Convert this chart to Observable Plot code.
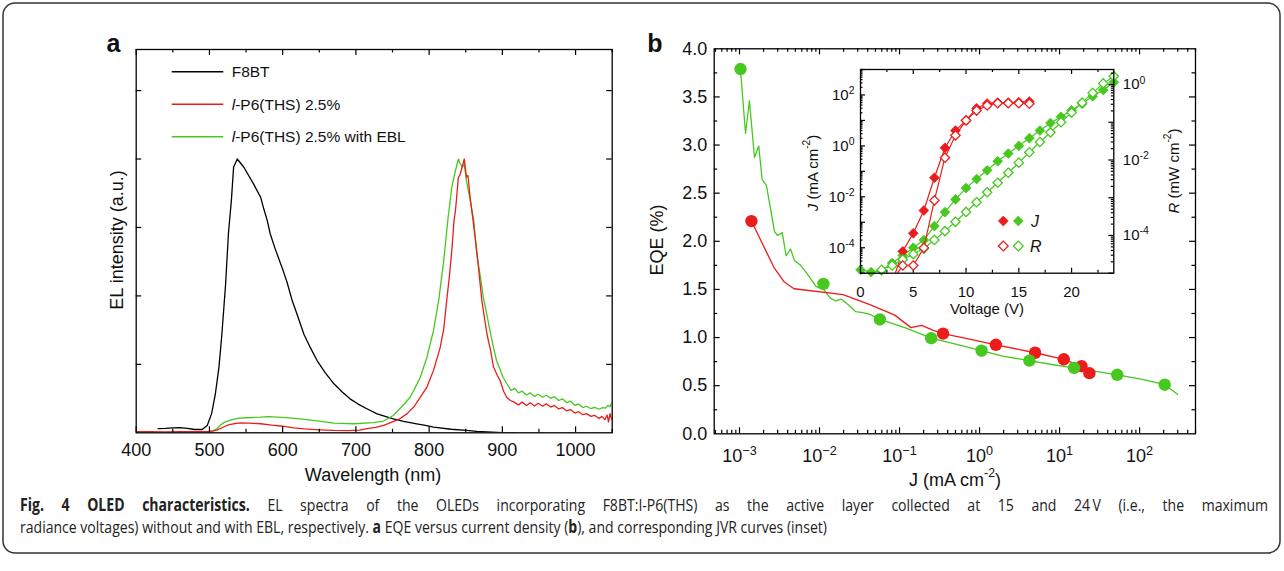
<!DOCTYPE html>
<html><head><meta charset="utf-8">
<script src="https://cdn.jsdelivr.net/npm/d3@7"></script>
<script src="https://cdn.jsdelivr.net/npm/@observablehq/plot@0.6"></script>
<style>
body{margin:0;background:#fff;}
#root{position:relative;width:1284px;height:571px;overflow:hidden;font-family:"Liberation Sans",Arial,sans-serif;color:#111;}
.lbl{position:absolute;white-space:nowrap;transform:translate(-50%,-50%);line-height:1;}
.rot{transform:translate(-50%,-50%) rotate(-90deg);}
.lbl sup{font-size:0.68em;position:relative;top:-0.15em;vertical-align:super;line-height:0;}
</style></head><body><div id="root"></div>
<script>
// ---------- Panel a: EL spectra ----------
const f8btWl = [430,440,450,460,470,480,490,497,503,508,513,517,522,526,530,533,538,547,560,570,574,579,583,590,599,606,613,620,629,638,647,658,670,681,692,703,715,729,740,751,765,783,795,806,830,851,865,879,900,920];
const f8btEl = [0.015,0.016,0.018,0.019,0.016,0.012,0.012,0.027,0.07,0.14,0.24,0.36,0.54,0.73,0.85,0.97,1.0,0.97,0.91,0.86,0.82,0.775,0.727,0.67,0.605,0.55,0.483,0.43,0.36,0.31,0.264,0.22,0.179,0.15,0.124,0.105,0.088,0.069,0.06,0.051,0.042,0.033,0.027,0.021,0.013,0.0085,0.005,0.003,0.001,0.0];
const p6Wl = [400,420,440,460,480,500,510,520,527,533,542,555,570,585,600,615,630,650,670,690,705,715,727,738,750,760,770,779,788,797,806,815,820,824,828,831,834,836,840,842,845,848,851,853,856,860,865,872,879,884,888,893,897,902,906,911,916,922,927,933,938,944,949,955,960,966,971,977,982,988,993,999,1004,1010,1015,1021,1026,1032,1036,1040,1043,1045,1047,1049];
const p6El = [0.004,0.004,0.003,0.004,0.004,0.005,0.01,0.022,0.03,0.033,0.036,0.035,0.033,0.028,0.024,0.018,0.014,0.011,0.0085,0.008,0.01,0.015,0.02,0.027,0.04,0.051,0.07,0.094,0.13,0.167,0.228,0.31,0.38,0.483,0.58,0.666,0.775,0.812,0.934,0.94,0.97,1.0,0.934,0.94,0.86,0.775,0.666,0.483,0.36,0.3,0.24,0.21,0.19,0.15,0.13,0.118,0.112,0.102,0.112,0.1,0.11,0.098,0.108,0.097,0.106,0.094,0.1,0.087,0.092,0.08,0.085,0.072,0.077,0.066,0.07,0.06,0.064,0.052,0.06,0.048,0.065,0.04,0.07,0.05];
const eblWl = [400,440,480,500,505,510,515,520,524,530,538,550,570,580,600,624,650,670,697,724,738,751,760,767,774,781,788,797,806,813,820,826,831,836,840,842,845,848,851,856,861,865,870,874,879,883,888,892,897,901,906,912,917,922,927,933,938,944,949,955,960,966,971,977,982,988,993,999,1004,1010,1015,1021,1026,1032,1037,1041,1044,1047,1049];
const eblEl = [0.001,0.001,0.001,0.002,0.006,0.015,0.028,0.038,0.042,0.047,0.053,0.055,0.057,0.059,0.056,0.051,0.043,0.035,0.033,0.037,0.043,0.063,0.088,0.108,0.13,0.165,0.203,0.276,0.374,0.483,0.63,0.788,0.897,0.958,1.0,0.985,0.97,0.98,0.92,0.85,0.775,0.654,0.57,0.495,0.43,0.374,0.31,0.264,0.23,0.203,0.18,0.155,0.162,0.146,0.152,0.138,0.146,0.133,0.141,0.13,0.137,0.126,0.132,0.118,0.124,0.11,0.116,0.1,0.105,0.092,0.097,0.088,0.093,0.086,0.092,0.09,0.1,0.095,0.108];
const wlTicks = [400,500,600,700,800,900,1000];

// ---------- Panel b: EQE vs J ----------
const eqeGreenJ = [1.03e-3,1.19e-3,1.33e-3,1.54e-3,1.74e-3,1.92e-3,2.17e-3,2.43e-3,2.74e-3,3.0e-3,3.42e-3,3.83e-3,4.34e-3,4.87e-3,5.79e-3,6.7e-3,9.1e-3,0.0112,0.0137,0.016,0.0187,0.0229,0.0282,0.0347,0.0427,0.0568,0.119,0.249,0.616,1.06,2.0,4.2,8.0,15.2,52.6,105,206,298];
const eqeGreen = [3.78,3.12,3.46,2.87,2.99,2.64,2.58,2.35,2.1,2.06,2.09,1.85,1.92,1.80,1.75,1.685,1.53,1.50,1.41,1.38,1.40,1.34,1.27,1.26,1.24,1.188,1.10,0.993,0.914,0.863,0.805,0.76,0.72,0.685,0.613,0.568,0.51,0.41];
const eqeRedJ = [1.41e-3,2.69e-3,3.6e-3,4.81e-3,0.0197,0.0426,0.0873,0.139,0.189,0.265,0.35,0.75,1.6,4.95,11.3,18.8,23.6];
const eqeRed = [2.21,1.73,1.58,1.507,1.445,1.342,1.233,1.103,1.127,1.075,1.041,0.983,0.925,0.842,0.774,0.702,0.63];
const dotGreenJ = [1.03e-3,0.0112,0.0568,0.249,1.06,4.2,15.2,52.6,206];
const dotGreenEqe = [3.79,1.558,1.188,0.993,0.863,0.76,0.685,0.613,0.51];
const dotRedJ = [1.41e-3,0.35,1.6,4.95,11.3,18.8,23.6];
const dotRedEqe = [2.21,1.041,0.925,0.842,0.774,0.702,0.63];
const eqeTicks = [0,0.5,1,1.5,2,2.5,3,3.5,4];
const jDecades = [1e-3,1e-2,1e-1,1,10,100];

// ---------- Inset: J-V-R ----------
const leadRedJV = [3.3], leadRedJ = [1e-5];
const vRedJ = [4,5,6,7,8,9,10,11,12,13,14,15,16];
const jRed = [7.2e-5,3.7e-4,2.9e-3,0.056,0.84,4.0,10,30,46,50,50,52,55];
const leadRedRV = [3.5], leadRedR = [1e-5];
const vRedR = [4,5,6,7,8,9,10,11,12,13,14,15,16];
const rRed = [1.6e-5,1.6e-5,4.7e-5,8.5e-4,0.0115,0.045,0.112,0.204,0.278,0.32,0.32,0.32,0.31];
const vGreenJ = [0,1,2,3,4,5,6,7,8,9,10,11,12,13,14,15,16,17,18,19,20,21,22,23,24];
const jGreen = [1.35e-5,1.1e-5,1.26e-5,2.5e-5,5e-5,1e-4,2e-4,7.1e-4,2.5e-3,7.9e-3,0.022,0.05,0.11,0.25,0.5,1.0,2.0,4.0,7.9,14,25,45,89,158,316];
const vGreenR = [2,3,4,5,6,7,8,9,10,11,12,13,14,15,16,17,18,19,20,21,22,23,24];
const rGreen = [1.23e-5,1.6e-5,2.3e-5,3.2e-5,4.5e-5,7.6e-5,1.3e-4,2.3e-4,4.2e-4,7.6e-4,1.4e-3,2.5e-3,4.6e-3,8.5e-3,0.016,0.03,0.054,0.1,0.18,0.33,0.6,1.07,1.66];
const vTicks = [0,5,10,15,20];
const jInsetTicks = [1e-4,1e-2,1,1e2];
const rInsetTicks = [1e-4,1e-2,1];

const RED = "#ec1c1c", GREEN = "#46c81e", BLACK = "#000";
const FONT = '"Liberation Sans", Arial, Helvetica, sans-serif';
const root = document.getElementById("root");

const tickStyle = {stroke: "#000", strokeWidth: 1.2};
function xTicks(vals, len, innerH) {
  return [Plot.tickX(vals, {x: d => d, insetTop: innerH - len, ...tickStyle}),
          Plot.tickX(vals, {x: d => d, insetBottom: innerH - len, ...tickStyle})];
}
function yTicks(vals, len, innerW, side) {
  const m = [];
  if (side !== "right") m.push(Plot.tickY(vals, {y: d => d, insetRight: innerW - len, ...tickStyle}));
  if (side !== "left") m.push(Plot.tickY(vals, {y: d => d, insetLeft: innerW - len, ...tickStyle}));
  return m;
}
function logTicks(lo, hi, minor) {
  const out = [];
  for (let e = Math.floor(Math.log10(lo)); e <= Math.ceil(Math.log10(hi)); e++)
    for (const k of (minor ? [2,3,4,5,6,7,8,9] : [1])) {
      const v = k * Math.pow(10, e);
      if (v >= lo * 0.999 && v <= hi * 1.001) out.push(v);
    }
  return out;
}
function supify(svg) {
  const ns = "http://www.w3.org/2000/svg";
  svg.querySelectorAll("text").forEach(t => {
    const m = t.textContent.match(/^(\d+)\^(.+)$/);
    if (!m) return;
    t.textContent = m[1];
    const sp = document.createElementNS(ns, "tspan");
    sp.setAttribute("dy", "-0.55em");
    sp.setAttribute("font-size", "0.7em");
    sp.textContent = m[2];
    t.appendChild(sp);
  });
}
function place(el, left, top) {
  el.style.position = "absolute"; el.style.left = left + "px"; el.style.top = top + "px";
  root.appendChild(el); return el;
}
const baseStyle = {fontFamily: FONT, fontSize: "18px", background: "transparent", overflow: "visible", color: "#111"};
const expFmt = (minus) => d => "10^" + String(Math.round(Math.log10(d))).replace("-", minus);

// ---------- Panel a ----------
{
  const W = 650, H = 500, mL = 135.7, mR = 38.3, mT = 49, mB = 67.7;
  const iW = W - mL - mR, iH = H - mT - mB;
  const rows = [];
  f8btWl.forEach((w, i) => rows.push({s: "F8BT", x: w, y: f8btEl[i]}));
  eblWl.forEach((w, i) => rows.push({s: "EBL", x: w, y: eblEl[i]}));
  p6Wl.forEach((w, i) => rows.push({s: "P6", x: w, y: p6El[i]}));
  const svg = Plot.plot({
    width: W, height: H, marginLeft: mL, marginRight: mR, marginTop: mT, marginBottom: mB,
    style: baseStyle,
    x: {domain: [400, 1050]},
    y: {domain: [0, 1.4], axis: null},
    color: {domain: ["F8BT", "P6", "EBL"], range: [BLACK, RED, GREEN]},
    marks: [
      Plot.lineY(rows, {x: "x", y: "y", z: "s", stroke: "s", strokeWidth: 1.3, clip: true}),
      ...xTicks(wlTicks, 6, iH),
      ...xTicks([450,550,650,750,850,950,1050], 3.5, iH),
      ...yTicks([0.25,0.5,0.75,1,1.25], 5.5, iW, "both"),
      Plot.axisX({ticks: wlTicks, tickSize: 0, tickPadding: 10, label: null, tickFormat: d => String(d), fontSize: 18}),
      Plot.frame({stroke: "#000", strokeWidth: 1.3})
    ]
  });
  place(svg, 0, 0);
}

// ---------- Panel b ----------
{
  const W = 600, H = 500, mL = 73.7, mR = 45, mT = 48.3, mB = 66.7;
  const iW = W - mL - mR, iH = H - mT - mB;
  const gLine = eqeGreenJ.map((j, i) => ({x: j, y: eqeGreen[i]}));
  const rLine = eqeRedJ.map((j, i) => ({x: j, y: eqeRed[i]}));
  const gDots = dotGreenJ.map((j, i) => ({x: j, y: dotGreenEqe[i]}));
  const rDots = dotRedJ.map((j, i) => ({x: j, y: dotRedEqe[i]}));
  const svg = Plot.plot({
    width: W, height: H, marginLeft: mL, marginRight: mR, marginTop: mT, marginBottom: mB,
    style: baseStyle,
    x: {type: "log", domain: [4.83e-4, 500]},
    y: {domain: [0, 4]},
    marks: [
      Plot.line(gLine, {x: "x", y: "y", stroke: GREEN, strokeWidth: 1.3}),
      Plot.line(rLine, {x: "x", y: "y", stroke: RED, strokeWidth: 1.3}),
      Plot.dot(rDots, {x: "x", y: "y", r: 6.2, fill: RED, stroke: "none"}),
      Plot.dot(gDots, {x: "x", y: "y", r: 6.2, fill: GREEN, stroke: "none"}),
      ...xTicks(jDecades, 6, iH),
      ...xTicks(logTicks(4.83e-4, 500, true), 3.5, iH),
      ...yTicks([0.5,1,1.5,2,2.5,3,3.5], 6, iW, "both"),
      ...yTicks([0.25,0.75,1.25,1.75,2.25,2.75,3.25,3.75], 3.5, iW, "both"),
      Plot.axisX({ticks: jDecades, tickSize: 0, tickPadding: 15, label: null, tickFormat: expFmt("\u2212"), fontSize: 18}),
      Plot.axisY({ticks: eqeTicks, tickSize: 0, tickPadding: 7, label: null, tickFormat: d3.format(".1f"), fontSize: 18}),
      Plot.frame({stroke: "#000", strokeWidth: 1.3})
    ]
  });
  supify(svg);
  place(svg, 640, 0);
}

// ---------- Inset (J axis, left) ----------
const IW = 420, IH = 320, imL = 80, imR = 86.7, imT = 49, imB = 67.3;
const iiW = IW - imL - imR, iiH = IH - imT - imB;
{
  const redJLine = [...leadRedJV.map((v, i) => ({x: v, y: leadRedJ[i]})), ...vRedJ.map((v, i) => ({x: v, y: jRed[i]}))];
  const redJPts = vRedJ.map((v, i) => ({x: v, y: jRed[i]}));
  const greenJPts = vGreenJ.map((v, i) => ({x: v, y: jGreen[i]}));
  const svg = Plot.plot({
    width: IW, height: IH, marginLeft: imL, marginRight: imR, marginTop: imT, marginBottom: imB,
    style: {...baseStyle, fontSize: "14px"},
    x: {domain: [0, 24]},
    y: {type: "log", domain: [1e-5, 1e3]},
    marks: [
      Plot.frame({fill: "white", stroke: "none"}),
      Plot.line(greenJPts, {x: "x", y: "y", stroke: GREEN, strokeWidth: 1.2, clip: true}),
      Plot.line(redJLine, {x: "x", y: "y", stroke: RED, strokeWidth: 1.2, clip: true}),
      Plot.dot(greenJPts, {x: "x", y: "y", symbol: "diamond2", r: 4.4, fill: GREEN, stroke: GREEN, strokeWidth: 0.8}),
      Plot.dot(redJPts, {x: "x", y: "y", symbol: "diamond2", r: 4.4, fill: RED, stroke: RED, strokeWidth: 0.8}),
      ...xTicks([5,10,15,20], 5, iiH),
      ...xTicks([2.5,7.5,12.5,17.5,22.5], 3, iiH),
      ...yTicks(logTicks(1e-5, 1e3, false), 5, iiW, "left"),
      ...yTicks(logTicks(1e-5, 1e3, true), 2.5, iiW, "left"),
      Plot.axisX({ticks: vTicks, tickSize: 0, tickPadding: 13, label: null, tickFormat: d => String(d), fontSize: 15}),
      Plot.axisY({ticks: jInsetTicks, tickSize: 0, tickPadding: 6, label: null, tickFormat: expFmt("-"), fontSize: 15})
    ]
  });
  supify(svg);
  place(svg, 780, 20);
}
// ---------- Inset (R axis, right) ----------
{
  const redRLine = [...leadRedRV.map((v, i) => ({x: v, y: leadRedR[i]})), ...vRedR.map((v, i) => ({x: v, y: rRed[i]}))];
  const redRPts = vRedR.map((v, i) => ({x: v, y: rRed[i]}));
  const greenRPts = vGreenR.map((v, i) => ({x: v, y: rGreen[i]}));
  const svg = Plot.plot({
    width: IW, height: IH, marginLeft: imL, marginRight: imR, marginTop: imT, marginBottom: imB,
    style: {...baseStyle, fontSize: "14px"},
    x: {domain: [0, 24], axis: null},
    y: {type: "log", domain: [1e-5, 2.5]},
    marks: [
      Plot.line(greenRPts, {x: "x", y: "y", stroke: GREEN, strokeWidth: 1.2, clip: true}),
      Plot.line(redRLine, {x: "x", y: "y", stroke: RED, strokeWidth: 1.2, clip: true}),
      Plot.dot(greenRPts, {x: "x", y: "y", symbol: "diamond2", r: 4.2, fill: "white", stroke: GREEN, strokeWidth: 1.3}),
      Plot.dot(redRPts, {x: "x", y: "y", symbol: "diamond2", r: 4.2, fill: "white", stroke: RED, strokeWidth: 1.3}),
      ...yTicks(logTicks(1e-5, 2.5, false), 5, iiW, "right"),
      ...yTicks(logTicks(1e-5, 2.5, true), 2.5, iiW, "right"),
      Plot.axisY({anchor: "right", ticks: rInsetTicks, tickSize: 0, tickPadding: 9, label: null, tickFormat: expFmt("-"), fontSize: 15}),
      Plot.frame({stroke: "#000", strokeWidth: 1.3})
    ]
  });
  supify(svg);
  place(svg, 780, 20);
}

// ---------- Text labels ----------
function label(html, x, y, size, rot, extra) {
  const d = document.createElement("div");
  d.className = "lbl" + (rot ? " rot" : "");
  d.style.left = x + "px"; d.style.top = y + "px"; d.style.fontSize = size + "px";
  if (extra) Object.assign(d.style, extra);
  d.innerHTML = html; root.appendChild(d);
}
label("a", 113.5, 43, 25, false, {fontWeight: "bold"});
label("b", 655, 43, 25, false, {fontWeight: "bold"});
label("Wavelength (nm)", 373, 475, 18);
label("EL intensity (a.u.)", 117, 240, 18, true);
label("EQE (%)", 657, 240, 18, true);
label("J (mA cm<sup>-2</sup>)", 955, 480, 18);
label("Voltage (V)", 987, 308, 15);
label("<i>J</i> (mA cm<sup>-2</sup>)", 812, 173, 15, true);
label("<i>R</i> (mW cm<sup>-2</sup>)", 1173, 171, 15, true);

// ---------- Overlay: legends, border, caption ----------
const ov = d3.create("svg").attr("width", 1284).attr("height", 571)
  .style("position", "absolute").style("left", "0").style("top", "0").style("pointer-events", "none");
root.appendChild(ov.node());
const legendA = [
  {pre: "", name: "F8BT", color: BLACK},
  {pre: "l", name: "-P6(THS) 2.5%", color: RED},
  {pre: "l", name: "-P6(THS) 2.5% with EBL", color: GREEN}
];
legendA.forEach((d, i) => {
  const y = 71.7 + i * 32.5;
  ov.append("line").attr("x1", 171.7).attr("x2", 223.3).attr("y1", y).attr("y2", y)
    .attr("stroke", d.color).attr("stroke-width", 1.4);
  const t = ov.append("text").attr("x", 231.7).attr("y", y).attr("dy", "0.36em")
    .attr("font-family", FONT).attr("font-size", 15.5).attr("fill", "#111");
  if (d.pre) t.append("tspan").attr("font-style", "italic").text(d.pre);
  t.append("tspan").text(d.name);
});
// inset legend
const dia = (cx, cy, s) => `M${cx},${cy - s}L${cx + s},${cy}L${cx},${cy + s}L${cx - s},${cy}Z`;
[[RED, true, 1003.3, 221], [GREEN, true, 1018.3, 221], [RED, false, 1003.3, 246], [GREEN, false, 1018.3, 246]]
  .forEach(([c, filled, x, y]) => ov.append("path").attr("d", dia(x, y, 4.9))
    .attr("fill", filled ? c : "white").attr("stroke", c).attr("stroke-width", filled ? 0.8 : 1.3));
ov.append("text").attr("x", 1031).attr("y", 221).attr("dy", "0.36em").attr("font-family", FONT)
  .attr("font-size", 16).attr("font-style", "italic").attr("fill", "#111").text("J");
ov.append("text").attr("x", 1030).attr("y", 246).attr("dy", "0.36em").attr("font-family", FONT)
  .attr("font-size", 16).attr("font-style", "italic").attr("fill", "#111").text("R");

// border
ov.append("rect").attr("x", 3).attr("y", 3).attr("width", 1277).attr("height", 550).attr("rx", 12)
  .attr("fill", "none").attr("stroke", "#333").attr("stroke-width", 1.5);

// caption: condensed glyphs (horizontal scale), first line justified via word spacing
const CAPFONT = '"Open Sans", "Noto Sans", sans-serif';
const capOuter = ov.append("g").attr("transform", "translate(20,0)");
const capG = capOuter.append("g");
const capText = () => capG.append("text").attr("x", 0).attr("font-family", CAPFONT).attr("font-size", 17).attr("fill", "#222");
const line1rest = " EL spectra of the OLEDs incorporating F8BT:I-P6(THS) as the active layer collected at 15 and 24\u2009V (i.e., the maximum";
const l1 = capText().attr("y", 511);
l1.append("tspan").attr("font-weight", "bold").text("Fig. 4 OLED characteristics.");
l1.append("tspan").text(line1rest);
const l2 = capText().attr("y", 533);
l2.append("tspan").text("radiance voltages) without and with EBL, respectively. ");
l2.append("tspan").attr("font-weight", "bold").text("a");
l2.append("tspan").text(" EQE versus current density (");
l2.append("tspan").attr("font-weight", "bold").text("b");
l2.append("tspan").text("), and corresponding JVR curves (inset)");
const n2 = l2.node().getComputedTextLength();
const sx = 808 / n2;
capG.attr("transform", `scale(${sx},1)`);
const n1 = l1.node().getComputedTextLength();
const nSpaces = ("Fig. 4 OLED characteristics." + line1rest).split(" ").length - 1;
l1.style("word-spacing", ((1248 / sx - n1) / nSpaces) + "px");
</script>
</body></html>
